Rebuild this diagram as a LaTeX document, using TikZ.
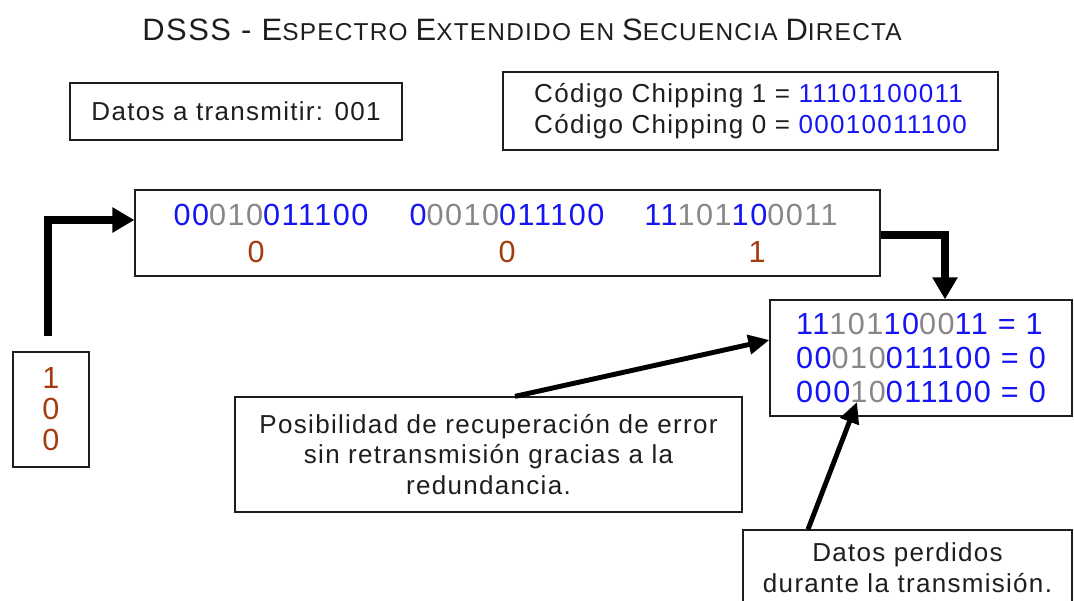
\documentclass[tikz,border=0pt]{standalone}
\usepackage{fontspec}
\setmainfont{Liberation Sans}[LetterSpace=5]
\usetikzlibrary{arrows.meta}
\definecolor{chipblue}{RGB}{20,20,245}
\definecolor{lostgray}{RGB}{135,135,135}
\definecolor{databrown}{RGB}{165,60,15}
\definecolor{inkgray}{RGB}{30,30,30}
\newcommand{\bl}[1]{\textcolor{chipblue}{#1}}
\newcommand{\gr}[1]{\textcolor{lostgray}{#1}}
\newcommand{\txtsize}{\fontsize{14.8pt}{17.6pt}\selectfont}
\newcommand{\bitsize}{\fontsize{17.4pt}{19.35pt}\selectfont}
\newcommand{\capbig}[1]{{\fontsize{17.6pt}{18pt}\selectfont #1}}
\newcommand{\capsmall}[1]{{\fontsize{13.9pt}{18pt}\selectfont #1}}
\tikzstyle{boxstyle}=[
    draw=inkgray,
    line width=0.75pt,
    inner sep=0pt,
    text=inkgray,
    align=center,
    font=\txtsize,
]
\tikzstyle{bitstyle}=[inner sep=0pt, font=\bitsize]
\tikzstyle{fatarrow}=[line width=4pt, -{Triangle[length=0.44cm,width=0.48cm]}]
\tikzstyle{thinarrow}=[line width=2.8pt, -{Triangle[length=0.42cm,width=0.38cm]}]

\begin{document}
\begin{tikzpicture}[x=0.02cm,y=-0.02cm]
        \useasboundingbox (0,0) rectangle (1074,601);
        \node (title) at (522,30) [text=inkgray] {\capbig{DSSS - E}\capsmall{SPECTRO }\capbig{E}\capsmall{XTENDIDO EN }\capbig{S}\capsmall{ECUENCIA }\capbig{D}\capsmall{IRECTA}};
        \node (datos) at (236,111.5) [boxstyle, minimum width=6.64cm, minimum height=1.14cm] {Datos a transmitir: 001};
        \node (codes) at (750.5,111) [boxstyle, align=left, minimum width=9.9cm, minimum height=1.56cm] {Código Chipping 1 = \bl{11101100011}\\Código Chipping 0 = \bl{00010011100}};
        \node (spread) at (507.5,233) [boxstyle, minimum width=14.9cm, minimum height=1.72cm] {};
        \node (chipA) at (271,215) [bitstyle] {\bl{00}\gr{010}\bl{011100}};
        \node (chipB) at (507,215) [bitstyle] {\bl{0}\gr{0010}\bl{011100}};
        \node (chipC) at (741,215) [bitstyle] {\bl{11}\gr{101}\bl{10}\gr{0011}};
        \node (bitA) at (256,252) [bitstyle, text=databrown] {0};
        \node (bitB) at (507,252) [bitstyle, text=databrown] {0};
        \node (bitC) at (757,252) [bitstyle, text=databrown] {1};
        \node (input) at (51,409.5) [boxstyle, text=databrown, font=\fontsize{17.4pt}{17.6pt}\selectfont, minimum width=1.52cm, minimum height=2.3cm] {1\\0\\0};
        \node (decoded) at (921,358) [boxstyle, align=left, font=\bitsize, minimum width=6.04cm, minimum height=2.32cm] {\bl{11}\gr{101}\bl{10}\gr{00}\bl{11 = 1}\\\bl{00}\gr{010}\bl{011100 = 0}\\\bl{000}\gr{10}\bl{011100 = 0}};
        \node (note) at (488.5,454.5) [boxstyle, minimum width=10.14cm, minimum height=2.3cm] {Posibilidad de recuperación de error\\sin retransmisión gracias a la\\redundancia.};
        \node (lost) at (907.5,568) [boxstyle, minimum width=6.58cm, minimum height=1.52cm] {Datos perdidos\\durante la transmisión.};
        \coordinate (lostbit) at (857,402);
        \draw[fatarrow] (input.north) ++(-3,-15) |- ([yshift=0.26cm]spread.west);
        \draw[fatarrow] ([yshift=-0.04cm]spread.east) -| ([xshift=0.48cm]decoded.north);
        \draw[thinarrow] ([xshift=0.53cm]note.north) -- ([yshift=0.36cm]decoded.west);
        \draw[thinarrow] ([xshift=-1.99cm]lost.north) -- (lostbit);
    \end{tikzpicture}
\end{document}
